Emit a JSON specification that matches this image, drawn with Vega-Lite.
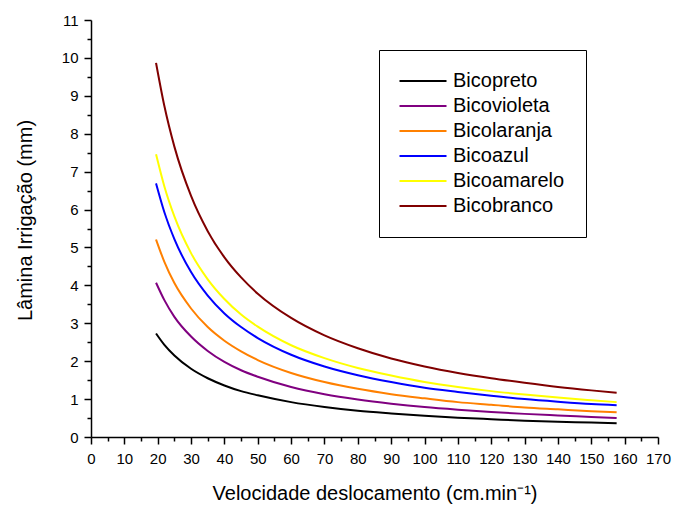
{
  "$schema": "https://vega.github.io/schema/vega-lite/v6.json",
  "width": 567,
  "height": 417,
  "autosize": {"type": "none"},
  "padding": {"left": 91, "top": 20, "right": 17, "bottom": 68},
  "background": "white",
  "config": {
    "view": {"stroke": null},
    "font": "Liberation Sans",
    "axis": {"labelFont": "Liberation Sans", "titleFont": "Liberation Sans", "labelColor": "black", "titleColor": "black", "domainColor": "black", "tickColor": "black", "grid": false, "titleFontWeight": "normal", "labelFlush": false, "labelOverlap": false}
  },
  "data": {"values": [
    {"v":19.5,"l":2.73,"s":"Bicopreto"},{"v":22,"l":2.43,"s":"Bicopreto"},{"v":25,"l":2.15,"s":"Bicopreto"},{"v":30,"l":1.80,"s":"Bicopreto"},{"v":35,"l":1.55,"s":"Bicopreto"},{"v":40,"l":1.36,"s":"Bicopreto"},{"v":45,"l":1.21,"s":"Bicopreto"},{"v":50,"l":1.10,"s":"Bicopreto"},{"v":60,"l":0.92,"s":"Bicopreto"},{"v":70,"l":0.79,"s":"Bicopreto"},{"v":80,"l":0.69,"s":"Bicopreto"},{"v":90,"l":0.62,"s":"Bicopreto"},{"v":100,"l":0.56,"s":"Bicopreto"},{"v":110,"l":0.51,"s":"Bicopreto"},{"v":120,"l":0.47,"s":"Bicopreto"},{"v":130,"l":0.43,"s":"Bicopreto"},{"v":140,"l":0.40,"s":"Bicopreto"},{"v":150,"l":0.38,"s":"Bicopreto"},{"v":157.6,"l":0.36,"s":"Bicopreto"},
    {"v":19.5,"l":4.07,"s":"Bicovioleta"},{"v":22,"l":3.61,"s":"Bicovioleta"},{"v":25,"l":3.17,"s":"Bicovioleta"},{"v":30,"l":2.65,"s":"Bicovioleta"},{"v":35,"l":2.27,"s":"Bicovioleta"},{"v":40,"l":1.98,"s":"Bicovioleta"},{"v":45,"l":1.76,"s":"Bicovioleta"},{"v":50,"l":1.59,"s":"Bicovioleta"},{"v":60,"l":1.32,"s":"Bicovioleta"},{"v":70,"l":1.13,"s":"Bicovioleta"},{"v":80,"l":0.99,"s":"Bicovioleta"},{"v":90,"l":0.88,"s":"Bicovioleta"},{"v":100,"l":0.79,"s":"Bicovioleta"},{"v":110,"l":0.72,"s":"Bicovioleta"},{"v":120,"l":0.66,"s":"Bicovioleta"},{"v":130,"l":0.61,"s":"Bicovioleta"},{"v":140,"l":0.57,"s":"Bicovioleta"},{"v":150,"l":0.53,"s":"Bicovioleta"},{"v":157.6,"l":0.50,"s":"Bicovioleta"},
    {"v":19.5,"l":5.21,"s":"Bicolaranja"},{"v":22,"l":4.62,"s":"Bicolaranja"},{"v":25,"l":4.06,"s":"Bicolaranja"},{"v":30,"l":3.39,"s":"Bicolaranja"},{"v":35,"l":2.90,"s":"Bicolaranja"},{"v":40,"l":2.54,"s":"Bicolaranja"},{"v":45,"l":2.26,"s":"Bicolaranja"},{"v":50,"l":2.03,"s":"Bicolaranja"},{"v":60,"l":1.69,"s":"Bicolaranja"},{"v":70,"l":1.45,"s":"Bicolaranja"},{"v":80,"l":1.27,"s":"Bicolaranja"},{"v":90,"l":1.13,"s":"Bicolaranja"},{"v":100,"l":1.02,"s":"Bicolaranja"},{"v":110,"l":0.92,"s":"Bicolaranja"},{"v":120,"l":0.85,"s":"Bicolaranja"},{"v":130,"l":0.78,"s":"Bicolaranja"},{"v":140,"l":0.73,"s":"Bicolaranja"},{"v":150,"l":0.68,"s":"Bicolaranja"},{"v":157.6,"l":0.65,"s":"Bicolaranja"},
    {"v":19.5,"l":6.69,"s":"Bicoazul"},{"v":22,"l":5.93,"s":"Bicoazul"},{"v":25,"l":5.22,"s":"Bicoazul"},{"v":30,"l":4.35,"s":"Bicoazul"},{"v":35,"l":3.73,"s":"Bicoazul"},{"v":40,"l":3.26,"s":"Bicoazul"},{"v":45,"l":2.90,"s":"Bicoazul"},{"v":50,"l":2.61,"s":"Bicoazul"},{"v":60,"l":2.17,"s":"Bicoazul"},{"v":70,"l":1.86,"s":"Bicoazul"},{"v":80,"l":1.63,"s":"Bicoazul"},{"v":90,"l":1.45,"s":"Bicoazul"},{"v":100,"l":1.30,"s":"Bicoazul"},{"v":110,"l":1.19,"s":"Bicoazul"},{"v":120,"l":1.09,"s":"Bicoazul"},{"v":130,"l":1.00,"s":"Bicoazul"},{"v":140,"l":0.93,"s":"Bicoazul"},{"v":150,"l":0.87,"s":"Bicoazul"},{"v":157.6,"l":0.84,"s":"Bicoazul"},
    {"v":19.5,"l":7.46,"s":"Bicoamarelo"},{"v":22,"l":6.61,"s":"Bicoamarelo"},{"v":25,"l":5.82,"s":"Bicoamarelo"},{"v":30,"l":4.85,"s":"Bicoamarelo"},{"v":35,"l":4.16,"s":"Bicoamarelo"},{"v":40,"l":3.64,"s":"Bicoamarelo"},{"v":45,"l":3.23,"s":"Bicoamarelo"},{"v":50,"l":2.91,"s":"Bicoamarelo"},{"v":60,"l":2.42,"s":"Bicoamarelo"},{"v":70,"l":2.08,"s":"Bicoamarelo"},{"v":80,"l":1.82,"s":"Bicoamarelo"},{"v":90,"l":1.62,"s":"Bicoamarelo"},{"v":100,"l":1.45,"s":"Bicoamarelo"},{"v":110,"l":1.32,"s":"Bicoamarelo"},{"v":120,"l":1.21,"s":"Bicoamarelo"},{"v":130,"l":1.12,"s":"Bicoamarelo"},{"v":140,"l":1.04,"s":"Bicoamarelo"},{"v":150,"l":0.97,"s":"Bicoamarelo"},{"v":157.6,"l":0.92,"s":"Bicoamarelo"},
    {"v":19.5,"l":9.87,"s":"Bicobranco"},{"v":22,"l":8.73,"s":"Bicobranco"},{"v":25,"l":7.66,"s":"Bicobranco"},{"v":30,"l":6.36,"s":"Bicobranco"},{"v":35,"l":5.43,"s":"Bicobranco"},{"v":40,"l":4.74,"s":"Bicobranco"},{"v":45,"l":4.21,"s":"Bicobranco"},{"v":50,"l":3.78,"s":"Bicobranco"},{"v":60,"l":3.14,"s":"Bicobranco"},{"v":70,"l":2.68,"s":"Bicobranco"},{"v":80,"l":2.34,"s":"Bicobranco"},{"v":90,"l":2.07,"s":"Bicobranco"},{"v":100,"l":1.86,"s":"Bicobranco"},{"v":110,"l":1.69,"s":"Bicobranco"},{"v":120,"l":1.55,"s":"Bicobranco"},{"v":130,"l":1.43,"s":"Bicobranco"},{"v":140,"l":1.32,"s":"Bicobranco"},{"v":150,"l":1.23,"s":"Bicobranco"},{"v":157.6,"l":1.17,"s":"Bicobranco"}
  ]},
  "layer": [
    {
      "mark": {"type": "line", "strokeOpacity": 0},
      "encoding": {
        "x": {"field": "v", "type": "quantitative", "scale": {"domain": [0, 170], "nice": false, "zero": false},
          "axis": {"orient": "bottom", "values": [5,15,25,35,45,55,65,75,85,95,105,115,125,135,145,155,165], "tickSize": 4, "tickWidth": 1.5, "labels": false, "domain": false, "title": null}},
        "y": {"field": "l", "type": "quantitative", "scale": {"domain": [0, 11], "nice": false, "zero": false},
          "axis": {"orient": "left", "values": [0.5,1.5,2.5,3.5,4.5,5.5,6.5,7.5,8.5,9.5,10.5], "tickSize": 4, "tickWidth": 1.5, "labels": false, "domain": false, "title": null}},
        "detail": {"field": "s"}
      }
    },
    {
      "mark": {"type": "line", "strokeWidth": 2, "interpolate": "monotone"},
      "encoding": {
        "x": {"field": "v", "type": "quantitative",
          "axis": {"orient": "bottom", "values": [0,10,20,30,40,50,60,70,80,90,100,110,120,130,140,150,160,170], "tickSize": 7, "tickWidth": 1.5, "domainWidth": 1.5, "labelFontSize": 15, "labelPadding": 7, "title": "Velocidade deslocamento (cm.min⁻¹)", "titleFontSize": 20, "titlePadding": 17}},
        "y": {"field": "l", "type": "quantitative",
          "axis": {"orient": "left", "values": [0,1,2,3,4,5,6,7,8,9,10,11], "tickSize": 7, "tickWidth": 1.5, "domainWidth": 1.5, "labelFontSize": 15, "labelPadding": 6, "title": "Lâmina Irrigação (mm)", "titleFontSize": 20, "titlePadding": 26, "titleY": 200}},
        "color": {"field": "s", "type": "nominal",
          "scale": {"domain": ["Bicopreto","Bicovioleta","Bicolaranja","Bicoazul","Bicoamarelo","Bicobranco"], "range": ["#000000","#800080","#ff8000","#0000ff","#ffff00","#800000"]},
          "legend": {"orient": "none", "legendX": 288, "legendY": 30, "title": null, "strokeColor": "black", "fillColor": "white", "padding": 21, "symbolType": "M-4.7,0H4.7", "symbolSize": 100, "symbolStrokeWidth": 2, "symbolOffset": 13, "labelFontSize": 20, "labelFont": "Liberation Sans", "labelColor": "black", "labelOffset": 20, "rowPadding": 5, "labelLimit": 300}
        }
      }
    }
  ],
  "resolve": {"axis": {"x": "independent", "y": "independent"}}
}
